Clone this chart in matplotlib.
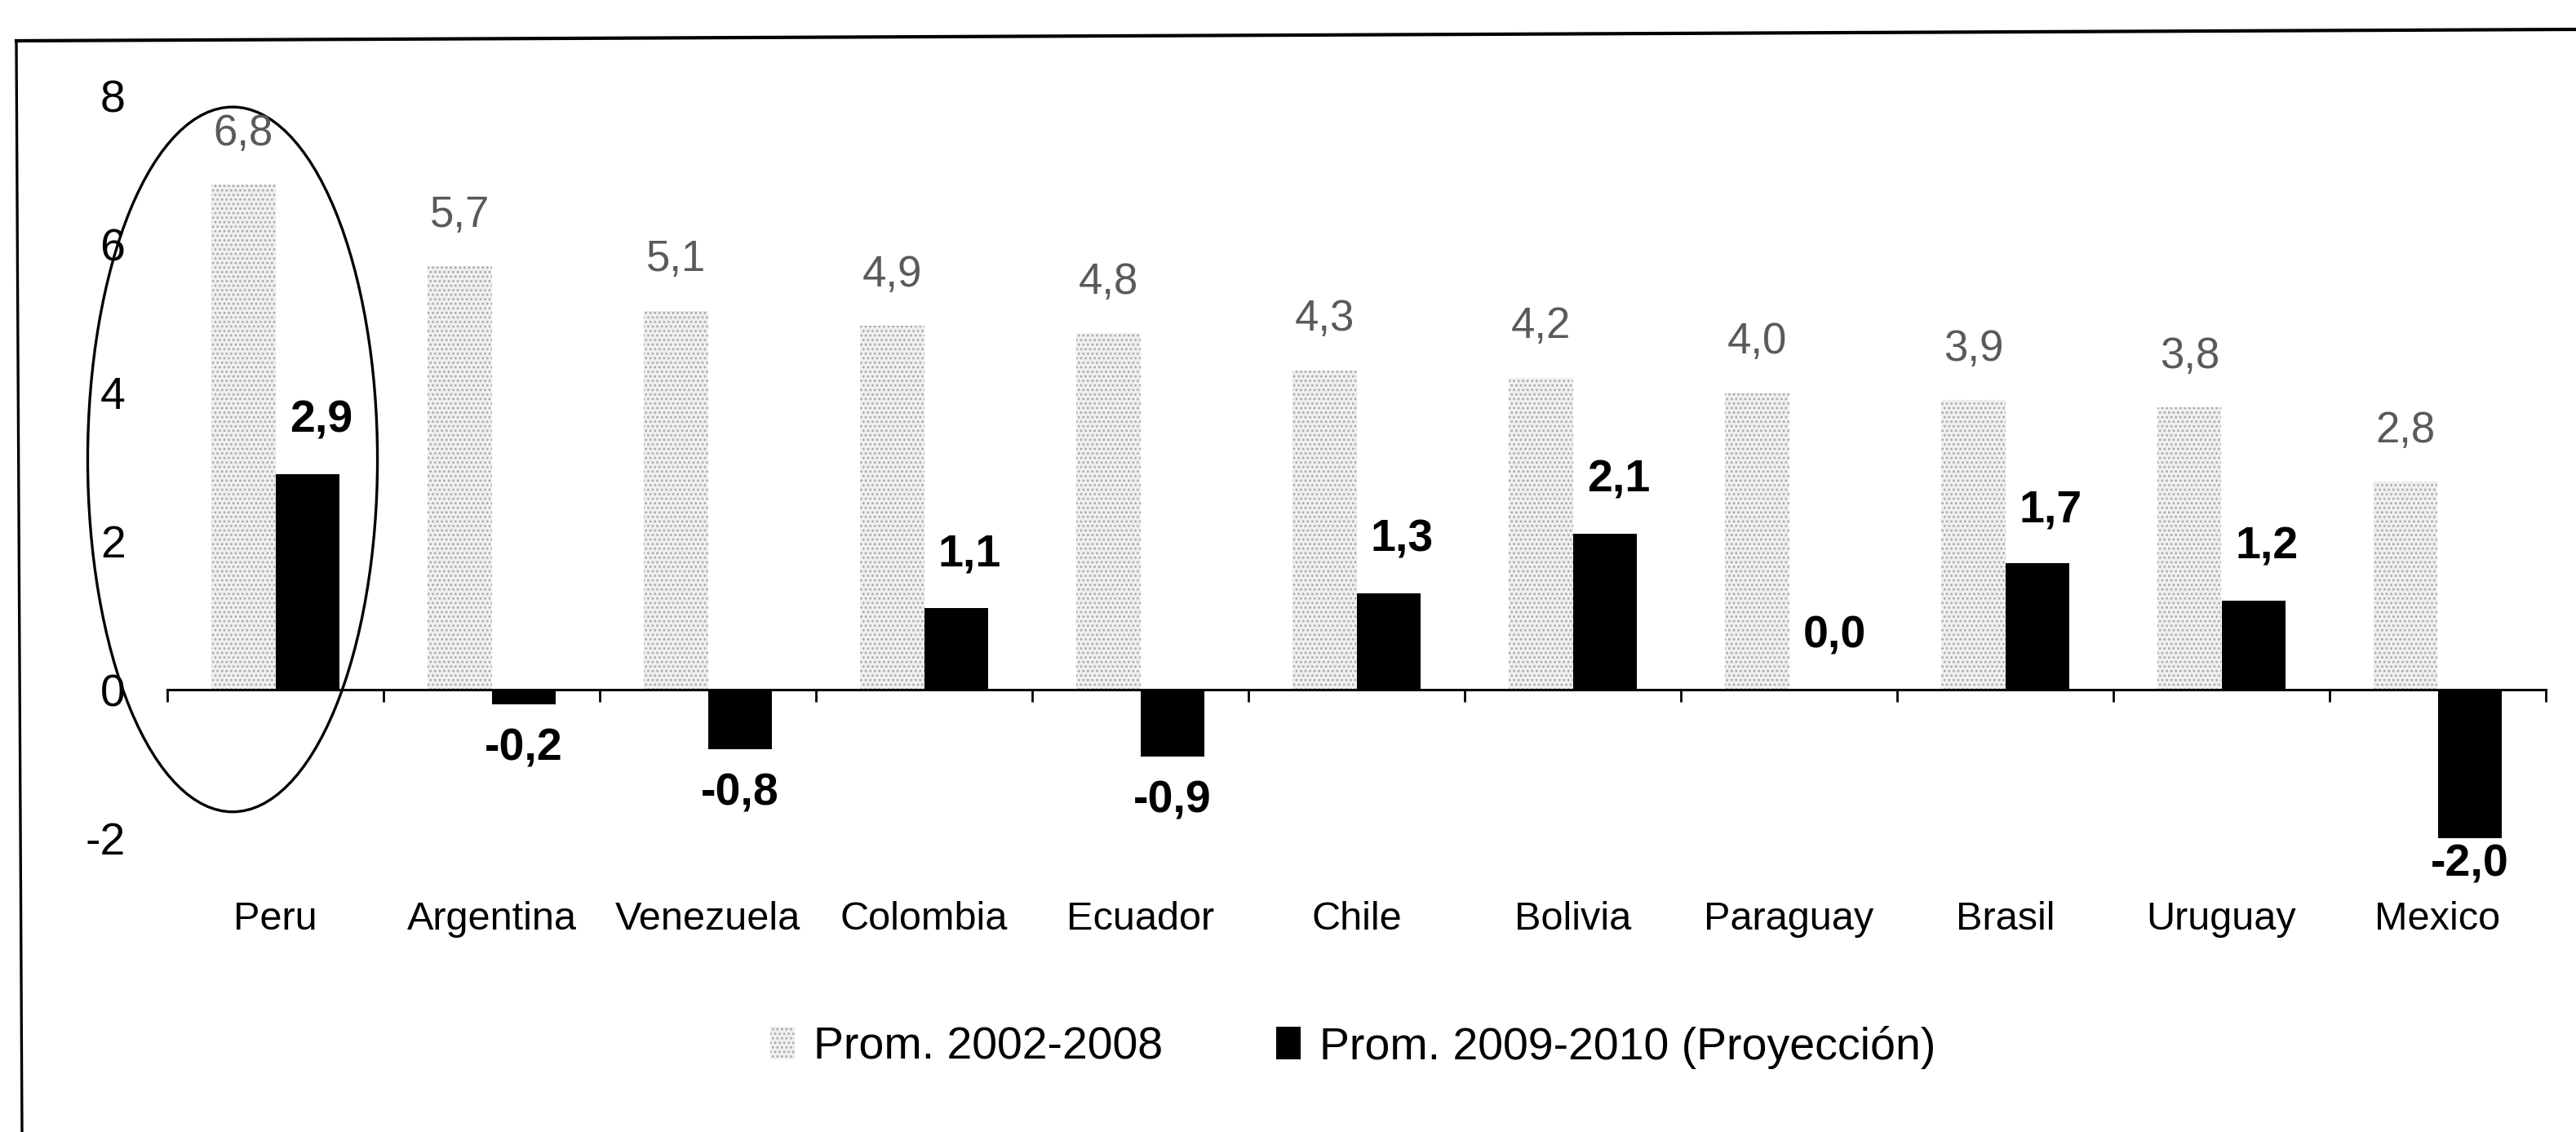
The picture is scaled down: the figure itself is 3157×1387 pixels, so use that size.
import matplotlib
matplotlib.use('Agg')
import matplotlib.pyplot as plt
import matplotlib.transforms as mtransforms
from matplotlib.patches import Ellipse
from matplotlib.lines import Line2D
import numpy as np

plt.rcParams['font.family'] = ['Liberation Sans', 'DejaVu Sans']
plt.rcParams['hatch.linewidth'] = 1.2

paises = ['Peru', 'Argentina', 'Venezuela', 'Colombia', 'Ecuador', 'Chile',
          'Bolivia', 'Paraguay', 'Brasil', 'Uruguay', 'Mexico']
prom_2002_2008 = [6.8, 5.7, 5.1, 4.9, 4.8, 4.3, 4.2, 4.0, 3.9, 3.8, 2.8]
prom_2009_2010 = [2.9, -0.2, -0.8, 1.1, -0.9, 1.3, 2.1, 0.0, 1.7, 1.2, -2.0]
etiquetas_y = [-2, 0, 2, 4, 6, 8]
leyenda = ['Prom. 2002-2008', 'Prom. 2009-2010 (Proyección)']

W, H = 3157, 1387
fig = plt.figure(figsize=(W / 100, H / 100), dpi=100)
# posicion de los ejes en pixeles (izq, der, arriba, abajo)
ax = fig.add_axes([205 / W, 1 - 1027 / H, (3120 - 205) / W, (1027 - 117) / H])

x = np.arange(len(paises))
ancho = 0.295

barras_gris = ax.bar(x - ancho / 2, prom_2002_2008, ancho, color='#efefef',
                     edgecolor='#a8a8a8', linewidth=0, hatch='...',
                     label=leyenda[0])
barras_negro = ax.bar(x + ancho / 2, prom_2009_2010, ancho, color='black',
                      edgecolor='black', linewidth=0, label=leyenda[1])

# etiquetas de valores
for xi, v in zip(x, prom_2002_2008):
    ax.annotate(f'{v:.1f}'.replace('.', ','), (xi - ancho / 2, v),
                xytext=(0, 45), textcoords='offset points',
                ha='center', va='center', fontsize=38, color='#5a5a5a')
for xi, v in zip(x, prom_2009_2010):
    txt = f'{v:.1f}'.replace('.', ',')
    if v >= 0:
        ax.annotate(txt, (xi + ancho / 2, v), xytext=(12, 47),
                    textcoords='offset points', ha='center', va='center',
                    fontsize=40, fontweight='bold', color='black')
    else:
        # debajo de la barra, sin bajar demasiado
        ax.text(xi + ancho / 2, max(v - 0.6, -2.36), txt, ha='center',
                va='center', fontsize=40, fontweight='bold', color='black',
                clip_on=False)

ax.set_xlim(-0.5, len(paises) - 0.5)
ax.set_ylim(-2, 8)

for s in ['top', 'right', 'left']:
    ax.spines[s].set_visible(False)
ax.spines['bottom'].set_position(('data', 0))
ax.spines['bottom'].set_linewidth(2.2)

ax.set_xticks(np.arange(-0.5, len(paises), 1.0))
ax.set_xticklabels([])
ax.tick_params(axis='x', direction='out', length=11, width=2)
ax.set_yticks(etiquetas_y)
ax.set_yticklabels([str(t) for t in etiquetas_y], fontsize=40)
ax.tick_params(axis='y', length=0, pad=37)

# nombres de paises debajo del grafico
trans = mtransforms.blended_transform_factory(ax.transData, ax.transAxes)
for xi, p in zip(x, paises):
    ax.text(xi, -0.109, p, transform=trans, ha='center', va='center',
            fontsize=35)

# elipse alrededor de Peru
elipse = Ellipse((-0.198, 3.10), 1.34, 9.49, fill=False, edgecolor='black',
                 linewidth=2.4, clip_on=False)
ax.add_patch(elipse)

fig.legend(handles=[barras_gris, barras_negro], labels=leyenda, loc='center',
           bbox_to_anchor=(1658 / W, 1 - 1283 / H), ncol=2, frameon=False,
           fontsize=40, handlelength=0.54, handleheight=0.72,
           handletextpad=0.41, columnspacing=2.5)

# marco del recuadro
fig.add_artist(Line2D([20 / W, 1.0], [1 - 50 / H, 1 - 36 / H], color='black',
                      linewidth=3, transform=fig.transFigure))
fig.add_artist(Line2D([20 / W, 27 / W], [1 - 50 / H, 0.0], color='black',
                      linewidth=2.4, transform=fig.transFigure))

plt.savefig('out.png', dpi=100, facecolor='white')
